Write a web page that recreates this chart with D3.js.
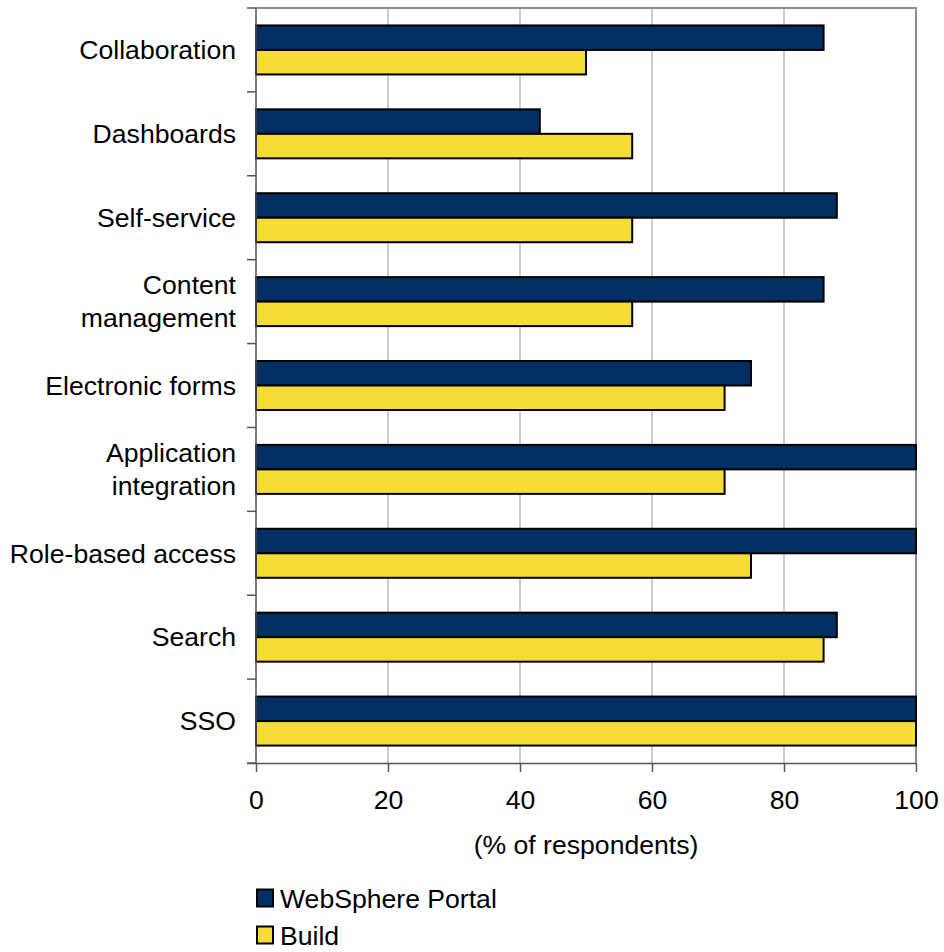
<!DOCTYPE html>
<html>
<head>
<meta charset="utf-8">
<script src="https://cdn.jsdelivr.net/npm/d3@7"></script>
<style>
  body { margin: 0; background: #fff; }
  svg { display: block; font-family: "Liberation Sans", Arial, sans-serif; }
</style>
</head>
<body>
<svg id="chart" width="944" height="952"></svg>
<script>
// Portal capabilities: share of respondents, WebSphere Portal vs. custom build
const categories = [
  ["Collaboration"],
  ["Dashboards"],
  ["Self-service"],
  ["Content", "management"],
  ["Electronic forms"],
  ["Application", "integration"],
  ["Role-based access"],
  ["Search "],
  ["SSO"]
];
const websphere = [86, 43, 88, 86, 75, 100, 100, 88, 100];
const build = [50, 57, 57, 57, 71, 71, 75, 86, 100];
const seriesNames = ["WebSphere Portal", "Build"];
const seriesColors = ["#003063", "#F5DC36"];
const xTicks = [0, 20, 40, 60, 80, 100];
const xTitle = "(% of respondents)";

const svg = d3.select("#chart");
const plotL = 256, plotR = 916, plotT = 8, plotB = 763;
const fs = 26.6;

const x = d3.scaleLinear().domain([0, 100]).range([plotL, plotR]);
const y = d3.scaleBand().domain(d3.range(categories.length)).range([plotT, plotB]);
const barH = 24.5;
const groupOffset = (y.bandwidth() - 2 * barH) / 2;

// gridlines
svg.append("g").selectAll("line").data(xTicks.filter(t => t > 0 && t < 100)).join("line")
  .attr("x1", d => x(d)).attr("x2", d => x(d))
  .attr("y1", plotT).attr("y2", plotB)
  .attr("stroke", "#999").attr("stroke-width", 1);

// plot frame (top and right)
svg.append("path")
  .attr("d", `M${plotL},${plotT}H${plotR}V${plotB}`)
  .attr("fill", "none").attr("stroke", "#8c8c8c").attr("stroke-width", 2);

// bars
const seriesData = [websphere, build];
seriesData.forEach((vals, si) => {
  svg.append("g").selectAll("rect").data(vals).join("rect")
    .attr("x", x(0))
    .attr("y", (d, i) => y(i) + groupOffset + si * barH)
    .attr("width", d => x(d) - x(0))
    .attr("height", barH)
    .attr("fill", seriesColors[si])
    .attr("stroke", "#000").attr("stroke-width", 2);
});

// left axis line + category ticks
svg.append("line")
  .attr("x1", plotL).attr("x2", plotL).attr("y1", plotT).attr("y2", plotB)
  .attr("stroke", "#555").attr("stroke-width", 1.5);
const catTicks = d3.range(categories.length + 1).map(i => plotT + i * y.step());
svg.append("g").selectAll("line").data(catTicks).join("line")
  .attr("x1", plotL - 9).attr("x2", plotL)
  .attr("y1", d => d).attr("y2", d => d)
  .attr("stroke", "#555").attr("stroke-width", 1.5);

// category labels
const labels = svg.append("g").attr("font-size", fs).attr("fill", "#000").attr("text-anchor", "end");
categories.forEach((lines, i) => {
  const cy = y(i) + y.bandwidth() / 2;
  const lh = 33;
  const startY = cy - (lines.length - 1) * lh / 2;
  const t = labels.append("text").attr("x", 236);
  lines.forEach((ln, k) => {
    t.append("tspan").attr("x", 236).attr("y", startY + k * lh).attr("dy", "0.35em").text(ln);
  });
});

// bottom axis
const xAxis = svg.append("g").attr("transform", `translate(0,${plotB})`)
  .call(d3.axisBottom(x).tickValues(xTicks).tickSizeInner(9).tickSizeOuter(0).tickPadding(18));
xAxis.select(".domain").attr("stroke", "#555").attr("stroke-width", 1.5)
  .attr("d", `M${plotL - 9},0.5H${plotR}`);
xAxis.selectAll(".tick line").attr("stroke", "#555").attr("stroke-width", 1.5);
xAxis.selectAll(".tick text").attr("font-size", fs).attr("fill", "#000")
  .attr("font-family", "'Liberation Sans', Arial, sans-serif");

svg.append("text")
  .attr("x", (plotL + plotR) / 2).attr("y", 845).attr("dy", "0.35em")
  .attr("text-anchor", "middle").attr("font-size", fs).attr("fill", "#000")
  .text(xTitle);

// legend
const legend = svg.append("g");
seriesNames.forEach((name, i) => {
  const ly = 898 + i * 37;
  legend.append("rect")
    .attr("x", 257).attr("y", ly - 8.5).attr("width", 16).attr("height", 17)
    .attr("fill", seriesColors[i]).attr("stroke", "#000").attr("stroke-width", 2);
  legend.append("text")
    .attr("x", 280).attr("y", ly).attr("dy", "0.36em")
    .attr("font-size", fs).attr("fill", "#000").text(name);
});
</script>
</body>
</html>
